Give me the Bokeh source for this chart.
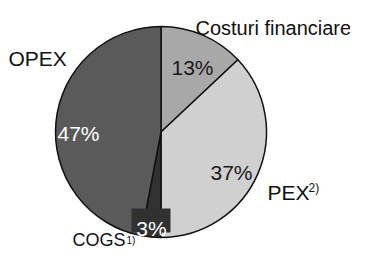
import math
from bokeh.plotting import figure
from bokeh.models import Range1d, ColumnDataSource
from bokeh.core.properties import value
from bokeh.embed import file_html
from bokeh.resources import INLINE

# data (clockwise from 12 o'clock)
categories = ["Costuri financiare", "PEX", "COGS", "OPEX"]
shares = [13, 37, 3, 47]
pct_labels = ["13%", "37%", "3%", "47%"]
colors = ["#a8a8a8", "#d0d0d0", "#313131", "#5a5a5a"]

W, H = 350, 251
p = figure(width=W, height=H, output_backend="svg", toolbar_location=None,
           x_range=Range1d(0, W), y_range=Range1d(0, H), min_border=0)
p.axis.visible = False
p.grid.visible = False
p.outline_line_color = None
p.background_fill_color = "white"

cx, cy, r = 160.5, 119.5, 105.5
total = sum(shares)
starts, ends = [], []
cum = 0
for s in shares:
    starts.append(math.pi / 2 - 2 * math.pi * cum / total)
    cum += s
    ends.append(math.pi / 2 - 2 * math.pi * cum / total)

src = ColumnDataSource(dict(start=starts, end=ends, color=colors, cat=categories))
p.wedge(x=cx, y=cy, radius=r, start_angle="start", end_angle="end", direction="clock",
        fill_color="color", line_color="#111111", line_width=1.5, source=src)

font = value("Liberation Sans")
fs = "21px"

# percentage labels
lab_x = [192, 231, 151, 78]
lab_y = [184, 79, 23, 118]
lab_col = ["#1a1a1a", "#1a1a1a", "white", "white"]
# dark box behind the small COGS label
p.rect(x=150.5, y=31, width=39, height=24, fill_color=colors[2], line_color=None)
p.text(x=lab_x, y=lab_y, text=pct_labels, text_color=lab_col, text_font=font,
       text_font_size=fs, text_align="center", text_baseline="alphabetic")

# category labels
def lab(x, y, t, size="21px", baseline="alphabetic"):
    p.text(x=[x], y=[y], text=[t], text_font=font, text_font_size=size,
           text_align="left", text_baseline=baseline, text_color="#111111")

lab(195, 224, "Costuri financiare", "20px")
lab(8, 193, "OPEX")
lab(267, 59, "PEX")
lab(308, 64, "2)", "12px")
lab(72, 2, "COGS", "18px", "bottom")
lab(126, 6, "1)", "10px", "bottom")

open("out.html", "w").write(file_html(p, INLINE))
